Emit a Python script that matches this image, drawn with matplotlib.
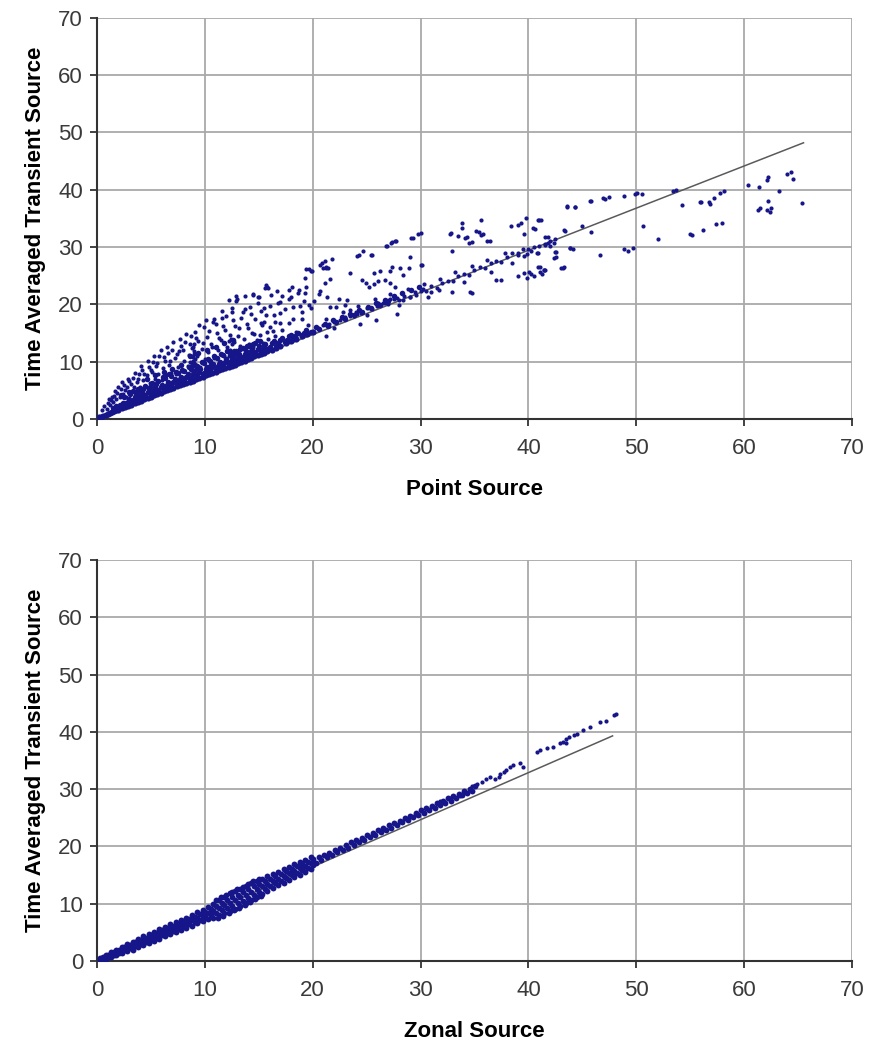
import matplotlib
matplotlib.use("Agg")
import matplotlib.pyplot as plt


plt.rcParams['font.family'] = ['Liberation Sans', 'DejaVu Sans']

DOT_COLOR = '#16168a'
LINE_COLOR = '#5a5a5a'
GRID_COLOR = '#a9a9a9'
AXIS_COLOR = '#333333'

# ---- point source vs transient --------------------------------------------
# lower edge of the cloud, running along the regression line
band_x = [0.2, 0.4, 0.6, 0.8, 1.0, 1.2, 1.4, 1.6, 1.8, 2.0, 2.3, 2.6, 2.9, 3.2,
          3.5, 3.8, 4.1, 4.4, 4.7, 5.0, 5.3, 5.6, 5.9, 6.2, 6.5, 6.8, 7.1, 7.4,
          7.7, 8.0, 8.3, 8.6, 8.9, 9.2, 9.5, 9.8, 10.1, 10.4, 10.7, 11.0, 11.3,
          11.6, 11.9, 12.2, 12.5, 12.8, 13.1, 13.4, 13.7, 14.0, 14.3, 14.6,
          14.9, 15.2, 15.5, 15.8, 16.2, 16.6, 17.0, 17.5, 18.0, 18.5, 19.0,
          19.5, 20.0]
band_y = [0.3, 0.4, 0.6, 0.7, 0.9, 1.0, 1.2, 1.3, 1.5, 1.6, 1.9, 2.1, 2.3, 2.5,
          2.8, 3.0, 3.2, 3.4, 3.7, 3.9, 4.1, 4.3, 4.6, 4.8, 5.0, 5.2, 5.4, 5.7,
          5.9, 6.1, 6.3, 6.5, 6.7, 7.0, 7.2, 7.4, 7.6, 7.8, 8.0, 8.2, 8.5,
          8.7, 8.9, 9.1, 9.3, 9.5, 9.8, 10.0, 10.2, 10.4, 10.6, 10.9,
          11.1, 11.3, 11.5, 11.8, 12.1, 12.4, 12.8, 13.2, 13.6, 14.0, 14.4,
          14.8, 15.2]

# dense wedge just above the lower edge
wedge_x = [1.5, 2.1, 2.7, 3.3, 3.9, 4.5, 5.1, 5.7, 6.3, 6.9, 7.5, 8.1, 8.7, 9.3,
           9.9, 10.5, 11.1, 11.7, 12.3, 12.9, 13.5, 14.1, 14.7, 15.3, 16.0,
           16.8, 17.6, 18.4, 19.2,
           1.8, 2.4, 3.0, 3.6, 4.2, 4.8, 5.4, 6.0, 6.6, 7.2, 7.8, 8.4, 9.0, 9.6,
           10.2, 10.8, 11.4, 12.0, 12.6, 13.2, 13.8, 14.4, 15.0, 15.6, 16.4,
           17.2, 18.0,
           3.3, 3.9, 4.5, 5.1, 5.7, 6.3, 6.9, 7.5, 8.1, 8.7, 9.3, 9.9, 10.5,
           11.1, 11.7, 12.3, 12.9, 13.5, 14.1, 14.7,
           2.0, 2.6, 3.2, 3.8, 4.4, 5.0, 5.6, 6.2, 6.8, 7.4, 8.0, 8.6, 9.2, 9.8,
           10.4, 11.0, 11.6, 12.2, 12.8, 13.4, 14.0, 14.6, 15.2, 15.8, 16.6,
           17.4, 18.2, 19.0, 19.8, 20.6, 21.4, 22.2, 23.0, 23.8, 24.6, 25.4,
           26.2, 27.0,
           2.3, 2.9, 3.5, 4.1, 4.7, 5.3, 5.9, 6.5, 7.1, 7.7, 8.3, 8.9, 9.5,
           10.1, 10.7, 11.3, 11.9, 12.5, 13.1, 13.7, 14.3, 14.9, 15.5, 16.2,
           17.0, 17.8, 18.6, 19.4,
           2.5, 3.1, 3.7, 4.3, 4.9, 5.5, 6.1, 6.7, 7.3, 7.9, 8.5, 9.1, 9.7,
           10.3, 10.9, 11.5, 12.1, 12.7, 13.3, 13.9, 14.5, 15.1,
           2.2, 3.0, 3.8, 4.6, 5.4, 6.2, 7.0, 7.8, 8.6, 9.4, 10.2, 11.0, 11.8,
           12.6,
           20.3, 21.1, 21.9, 22.7, 23.5, 24.3, 25.1, 25.9, 26.7, 27.5, 28.3,
           29.1, 29.9]
wedge_y = [1.9, 2.4, 2.8, 3.3, 3.7, 4.1, 4.6, 5.0, 5.5, 5.9, 6.4, 6.8, 7.2, 7.7,
           8.1, 8.6, 9.0, 9.5, 9.9, 10.3, 10.8, 11.2, 11.7, 12.1, 12.6,
           13.2, 13.8, 14.4, 15.0,
           2.3, 2.8, 3.4, 4.2, 4.7, 5.2, 5.6, 6.0, 6.5, 6.9, 7.4, 7.8, 8.3, 8.7,
           9.1, 9.6, 10.0, 10.5, 10.9, 11.4, 11.8, 12.3, 12.7, 13.1, 13.6,
           14.1, 14.6,
           4.9, 5.3, 5.7, 6.2, 6.6, 7.1, 7.5, 8.0, 8.4, 8.8, 9.3, 9.7, 10.2,
           10.6, 11.1, 11.5, 11.9, 12.4, 12.8, 13.3,
           2.0, 2.4, 2.9, 3.3, 3.8, 4.2, 4.6, 5.1, 5.5, 6.0, 6.4, 6.9, 7.3, 7.8,
           8.2, 8.6, 9.1, 9.5, 10.0, 10.4, 10.9, 11.3, 11.7, 12.2, 12.8,
           13.4, 14.0, 14.6, 15.2, 15.7, 16.3, 16.9, 17.5, 18.1, 18.7, 19.3,
           19.9, 20.5,
           2.5, 2.9, 3.8, 4.2, 4.7, 5.1, 5.6, 6.0, 6.5, 6.9, 7.3, 7.8, 8.2,
           8.7, 9.1, 9.6, 10.0, 10.5, 10.9, 11.3, 11.8, 12.2, 12.7, 13.2,
           13.8, 14.4, 15.0, 15.6,
           3.85, 4.3, 4.7, 5.2, 5.6, 6.1, 7.3, 7.8, 8.2, 8.6, 9.1, 9.5, 10.0,
           10.4, 10.9, 11.3, 11.8, 11.8, 12.2, 12.7, 13.1, 13.6,
           4.1, 4.7, 5.3, 7.0, 7.6, 8.2, 8.8, 9.4, 10.9, 11.5, 12.0, 12.6, 13.2,
           13.8,
           16.0, 16.6, 17.2, 17.8, 18.4, 19.0, 19.6, 20.2, 20.8, 21.4, 21.9,
           22.5, 23.1]

# scattered upper part of the cloud, x < 20
cloud_x = [0.5, 0.7, 0.9, 1.0, 1.2, 1.3, 1.5, 1.6, 1.8, 1.9, 2.1, 2.2, 2.4, 2.5,
           2.7, 2.8, 3.0, 3.1, 3.3, 3.4, 3.6, 3.7, 3.9, 4.0, 4.2, 4.3, 4.5, 4.6,
           4.8, 4.9, 5.1, 5.2, 5.4, 5.5, 5.7, 5.8, 6.0, 6.1, 6.3, 6.4, 6.6, 6.7,
           6.9, 7.0, 7.2, 7.3, 7.5, 7.6, 7.8, 7.9, 8.1, 8.2, 8.4, 8.5, 8.7, 8.8,
           9.0, 9.1, 9.3, 9.4, 9.6, 9.7, 9.9, 10.0, 10.2, 10.3, 10.5, 10.6,
           10.8, 10.9, 11.1, 11.2, 11.4, 11.5, 11.7, 11.8, 12.0, 12.1, 12.3,
           12.4, 12.6, 12.7, 12.9, 13.0, 13.2, 13.3, 13.5, 13.6, 13.8, 13.9,
           14.1, 14.2, 14.4, 14.5, 14.7, 14.8, 15.0, 15.1, 15.3, 15.4, 15.6,
           15.7, 15.9, 16.0, 16.3, 16.5, 12.9, 14.5, 15.7, 13.7, 11.6, 10.9,
           12.2, 16.5, 17.2, 17.8, 18.5, 19.0, 19.6, 16.0, 17.0, 18.2, 19.2,
           15.5, 16.8, 15.2,
           1.1, 1.4, 1.7, 2.0, 2.3, 2.6, 2.9, 3.2, 3.5, 3.8, 4.1, 4.4, 4.7, 5.0,
           5.3, 5.6, 5.9, 6.2, 6.5, 6.8, 7.1, 7.4, 7.7, 8.0, 8.3, 8.6, 9.2, 9.5,
           9.8, 10.1, 10.4, 10.7, 11.0, 11.3, 11.6, 11.9, 12.2, 12.5, 12.8,
           13.1, 13.4, 13.7, 14.0, 14.3, 14.6, 14.9, 15.2, 15.5, 15.8, 16.1,
           16.4, 16.7, 17.0, 17.4, 17.8, 18.2, 18.6, 19.0, 19.4, 19.8]
cloud_y = [1.5, 2.2, 1.8, 2.8, 2.4, 3.3, 2.9, 4.0, 3.4, 4.6, 3.8, 5.2, 4.4, 6.0,
           3.9, 5.5, 6.6, 4.7, 7.2, 5.6, 4.8, 6.4, 7.8, 5.5, 8.5, 6.8, 5.6, 7.6,
           9.0, 6.3, 8.2, 10.0, 6.9, 9.3, 7.8, 11.0, 6.8, 8.9, 10.2, 7.6, 11.5,
           9.5, 8.0, 12.0, 10.6, 7.9, 9.0, 11.8, 12.8, 8.4, 10.2, 13.5, 9.3,
           11.1, 14.5, 12.3, 9.8, 15.2, 10.9, 13.6, 9.1, 12.2, 16.0, 10.4, 14.3,
           11.6, 9.4, 13.0, 17.0, 10.7, 15.0, 12.1, 9.8, 13.8, 16.3, 10.9, 18.0,
           12.5, 14.6, 11.0, 17.2, 13.4, 20.6, 11.8, 15.8, 12.7, 18.6, 14.0,
           11.9, 16.6, 13.1, 19.5, 15.0, 12.6, 17.5, 13.8, 21.3, 14.6, 16.4,
           13.2, 22.8, 18.2, 14.0, 19.8, 15.4, 17.0, 21.4, 21.6, 23.3, 19.2,
           18.8, 17.5, 20.8, 14.5, 15.6, 16.8, 15.2, 17.5, 16.4, 16.0, 18.5,
           19.6, 20.5, 17.0, 20.3, 18.8,
           3.5, 3.9, 4.8, 5.6, 6.4, 5.0, 7.0, 6.1, 8.0, 7.0, 9.2, 7.9, 10.2, 8.6,
           11.0, 9.8, 12.0, 10.8, 12.6, 10.2, 13.4, 11.3, 14.0, 12.0, 14.8,
           13.0, 14.2, 16.4, 13.3, 17.2, 15.4, 12.6, 16.6, 14.2, 17.6, 15.6,
           13.6, 18.6, 16.2, 14.4, 17.6, 21.4, 15.8, 18.4, 14.8, 20.2, 16.8,
           19.4, 15.2, 21.6, 18.2, 22.4, 16.8, 19.2, 21.0, 17.4, 22.0, 18.6,
           23.0, 19.4]

# vertical streaks near x = 9 and x = 12.5
spike_x = [8.7, 8.8, 8.8, 8.9, 8.9, 9.0, 9.0, 8.9, 9.1, 9.1, 9.2, 8.6, 9.0,
           12.0, 12.2, 12.3, 12.5, 12.4, 12.6, 12.8]
spike_y = [8.5, 9.0, 9.6, 10.2, 10.8, 11.3, 11.9, 12.5, 9.3, 10.5, 8.8, 9.9,
           13.0, 10.0, 11.0, 12.0, 13.0, 14.0, 10.5, 11.5]

# sparse points between 20 and 45
mid_x = [30.0, 29.3, 27.4, 27.7, 26.9, 24.7, 24.3, 25.5, 21.8, 21.1, 20.7, 19.7,
         19.9, 21.2, 21.4, 19.3, 21.6, 21.1, 23.5, 25.7, 26.2, 27.2, 27.4, 28.1,
         28.4, 28.9, 30.0, 24.6, 24.9, 25.2, 25.7, 26.1, 26.7, 27.2, 27.6, 15.8,
         15.9, 17.8, 18.1, 18.7, 19.3, 17.2, 18.0, 17.0, 14.5, 14.9, 13.0, 12.5,
         20.6, 20.7, 20.1, 19.7, 18.8, 21.3, 22.4, 23.2, 21.6, 22.2, 23.0, 23.5,
         24.1, 23.8, 24.4, 26.1, 26.7, 27.2, 27.8, 28.4, 29.0, 29.6, 30.2, 25.9,
         27.8, 21.2,
         43.6, 44.3, 33.8, 33.8, 35.6, 38.4, 39.0, 39.3, 39.8, 41.0, 40.4, 32.7,
         33.5, 34.1, 35.1, 35.6, 36.2, 34.5, 29.8, 29.1, 26.8, 27.3, 27.6, 24.1,
         25.4, 20.9, 21.2, 21.0, 19.4, 19.8, 41.5, 43.3, 43.9, 42.6, 42.6, 43.3,
         41.5, 41.8, 42.0, 40.9, 39.9, 39.6, 39.0, 40.9, 41.4, 39.0, 39.6, 40.1,
         40.2, 37.0, 37.5, 34.6,
         34.8, 35.4, 35.8, 36.4, 32.8, 34.3, 39.6, 40.6, 41.2, 41.8, 42.4, 44.1,
         43.2, 40.5, 41.1, 41.3, 39.9, 41.1, 41.5, 34.8, 32.9, 31.7, 30.7, 32.9,
         30.1, 29.0, 40.5, 41.0, 41.5, 42.0, 40.2, 40.8, 42.5]
mid_y = [32.4, 31.5, 30.9, 31.1, 30.1, 29.4, 28.6, 28.6, 27.9, 27.5, 26.8, 26.1,
         25.9, 26.4, 26.3, 24.6, 24.4, 23.7, 25.5, 25.5, 25.8, 25.8, 26.5, 26.3,
         25.1, 26.4, 26.8, 24.2, 23.7, 23.1, 23.5, 24.1, 24.2, 23.7, 23.0, 23.1,
         22.9, 22.5, 23.1, 22.5, 21.9, 21.5, 21.2, 20.4, 21.8, 21.2, 21.0, 19.4,
         21.8, 22.3, 20.5, 19.9, 19.8, 21.3, 21.0, 20.8, 19.6, 19.6, 19.9, 19.0,
         18.3, 17.9, 16.5, 20.2, 20.2, 20.9, 21.1, 20.8, 21.2, 21.6, 22.6, 17.3,
         18.3, 14.5,
         37.1, 37.0, 34.2, 33.3, 34.8, 33.7, 33.8, 34.2, 35.1, 34.8, 33.3, 32.3,
         32.0, 31.5, 32.8, 32.1, 31.0, 30.7, 32.3, 31.5, 30.1, 30.7, 31.0, 28.5,
         28.6, 27.2, 26.6, 26.4, 26.2, 25.9, 31.7, 32.9, 29.8, 29.2, 28.3, 26.5,
         30.3, 30.7, 30.1, 28.9, 28.8, 28.4, 28.6, 26.6, 26.0, 24.9, 25.5, 25.6,
         25.3, 24.2, 24.2, 22.1,
         30.8, 32.6, 32.2, 31.0, 32.4, 31.7, 32.2, 33.2, 34.7, 31.7, 30.7, 29.7,
         26.3, 24.9, 25.6, 25.3, 24.6, 26.5, 26.0, 21.9, 22.2, 22.5, 21.3, 29.3,
         26.8, 28.3, 30.0, 30.2, 30.6, 31.0, 29.4, 29.0, 31.4]

# points hugging the regression line between 20 and 40
along_x = [20.5, 21.0, 21.5, 22.0, 22.5, 23.0, 23.5, 24.0, 24.5, 25.0, 25.5,
           26.0, 26.5, 27.0, 27.5, 28.0, 28.5, 29.0, 29.5, 30.0, 30.5, 31.0,
           31.5, 32.0, 32.5, 33.0, 33.5, 34.0, 34.5, 35.0, 35.5, 36.0, 36.5,
           37.0, 37.5, 38.0, 38.5, 39.0, 39.5, 40.0,
           21.2, 22.8, 24.2, 25.8, 27.2, 28.8, 30.3, 31.8, 33.2, 34.8, 36.2,
           37.8, 22.0, 25.0, 28.0, 31.0, 34.0, 36.5, 38.5]
along_y = [15.8, 16.4, 16.5, 17.0, 17.2, 17.8, 17.9, 18.6, 18.5, 19.3, 19.2,
           19.8, 20.3, 20.0, 20.9, 20.8, 21.5, 21.3, 22.1, 22.4, 22.3, 23.2,
           22.9, 23.8, 24.1, 24.0, 24.9, 25.3, 25.2, 26.0, 26.5, 26.3, 27.3,
           27.6, 27.4, 28.3, 28.9, 29.0, 29.6, 29.7,
           17.5, 18.6, 19.8, 20.9, 21.8, 22.7, 23.6, 24.5, 25.6, 26.7, 27.8,
           28.9, 15.9, 18.2, 19.9, 22.1, 23.9, 25.6, 27.3]

# the far right tail
far_x = [40.9, 43.6, 44.3, 45.7, 45.8, 46.9, 47.1, 47.5, 48.9, 49.9, 50.1, 50.5,
         45.0, 43.4, 45.8, 50.6, 52.0, 53.4, 53.7, 54.2, 55.9, 56.0, 56.7, 56.8,
         57.2, 57.8, 58.1, 55.0, 55.2, 56.2, 57.4, 57.9, 43.9, 46.6, 48.9, 49.2,
         49.7, 42.5, 42.4, 43.0, 41.4, 60.4, 61.4, 62.1, 62.2, 63.2, 64.0, 64.3,
         64.5, 65.4, 62.2, 62.5, 61.5, 61.3, 62.1, 62.4]
far_y = [34.8, 37.0, 37.0, 38.0, 38.0, 38.5, 38.4, 38.8, 39.0, 39.3, 39.4, 39.2,
         33.7, 32.8, 32.7, 33.7, 31.4, 39.8, 39.9, 37.3, 37.8, 37.9, 37.9, 37.6,
         38.5, 39.5, 39.8, 32.3, 32.1, 33.0, 34.1, 34.2, 29.8, 28.7, 29.7, 29.3,
         29.8, 29.2, 28.1, 26.4, 26.0, 40.9, 40.5, 41.7, 42.3, 39.7, 42.8, 43.1,
         41.9, 37.7, 38.1, 36.9, 36.9, 36.4, 36.4, 36.2]

point_fit_x = [0.0, 65.5]
point_fit_y = [0.0, 48.2]

# ---- zonal source vs transient --------------------------------------------
zonal_x1 = [0.3, 0.8, 1.3, 1.8, 2.3, 2.8, 3.3, 3.8, 4.3, 4.8, 5.3, 5.8, 6.3, 6.8,
            7.3, 7.8, 8.3, 8.8, 9.3, 9.8, 10.3, 10.8, 11.3, 11.8, 12.3, 12.8,
            13.3, 13.8, 14.3, 14.8, 15.3, 15.8, 16.3, 16.8, 17.3, 17.8, 18.3,
            18.8, 19.3, 19.8]
zonal_mid = [0.3, 0.7, 1.1, 1.5, 1.9, 2.3, 2.7, 3.1, 3.5, 3.9, 4.3, 4.7, 5.1,
             5.5, 5.9, 6.3, 6.7, 7.1, 7.5, 7.9, 8.3, 8.8, 9.3, 9.7, 10.2, 10.6,
             11.1, 11.6, 12.1, 12.6, 13.1, 13.5, 14.0, 14.4, 14.9, 15.3, 15.8,
             16.2, 16.6, 17.1]
zonal_low = [0.1, 0.4, 0.7, 1.0, 1.4, 1.7, 2.0, 2.4, 2.8, 3.1, 3.5, 3.9, 4.3,
             4.7, 5.1, 5.5, 5.8, 6.2, 6.6, 7.0, 7.3, 7.6, 8.0, 8.3, 8.7, 9.1,
             9.6, 10.1, 10.6, 11.2, 11.7, 12.2, 12.7, 13.2, 13.7, 14.2, 14.7,
             15.1, 15.6, 16.1]
zonal_high = [0.6, 1.1, 1.6, 2.0, 2.5, 2.9, 3.4, 3.8, 4.3, 4.7, 5.1, 5.6, 6.0,
              6.4, 6.8, 7.2, 7.6, 8.0, 8.5, 8.9, 9.4, 10.0, 10.6, 11.2, 11.8,
              12.2, 12.6, 13.1, 13.6, 14.0, 14.4, 14.8, 15.2, 15.6, 16.0, 16.4,
              16.9, 17.3, 17.7, 18.1]

zonal_x2 = [0.55, 1.05, 1.55, 2.05, 2.55, 3.05, 3.55, 4.05, 4.55, 5.05, 5.55,
            6.05, 6.55, 7.05, 7.55, 8.05, 8.55, 9.05, 9.55, 10.05, 10.55, 11.05,
            11.55, 12.05, 12.55, 13.05, 13.55, 14.05, 14.55, 15.05, 15.55,
            16.05, 16.55, 17.05, 17.55, 18.05, 18.55, 19.05, 19.55, 20.05]
zonal_lowmid = [0.4, 0.75, 1.1, 1.45, 1.85, 2.2, 2.55, 2.95, 3.35, 3.7, 4.1,
                4.5, 4.9, 5.3, 5.7, 6.1, 6.45, 6.85, 7.25, 7.65, 8.0, 8.4, 8.85,
                9.2, 9.65, 10.05, 10.55, 11.05, 11.55, 12.1, 12.6, 13.05, 13.55,
                14.0, 14.5, 14.95, 15.45, 15.85, 16.3, 16.8]
zonal_midhigh = [0.65, 1.1, 1.55, 1.95, 2.4, 2.8, 3.25, 3.65, 4.1, 4.5, 4.9,
                 5.35, 5.75, 6.15, 6.55, 6.95, 7.35, 7.75, 8.2, 8.6, 9.05, 9.6,
                 10.15, 10.65, 11.2, 11.6, 12.05, 12.55, 13.05, 13.5, 13.95,
                 14.35, 14.8, 15.2, 15.65, 16.05, 16.55, 16.95, 17.35, 17.8]

zonal_x3 = [20.3, 20.8, 21.3, 21.8, 22.3, 22.8, 23.3, 23.8, 24.3, 24.8, 25.3,
            25.8, 26.3, 26.8, 27.3, 27.8, 28.3, 28.8, 29.3, 29.8, 30.3, 30.8,
            31.3, 31.8, 32.3, 32.8, 33.3, 33.8, 34.3, 34.8]
zonal_row_a = [17.2, 17.7, 18.1, 18.5, 19.0, 19.4, 19.8, 20.3, 20.7, 21.1, 21.6,
               22.0, 22.5, 22.9, 23.3, 23.8, 24.2, 24.6, 25.1, 25.5, 25.9, 26.3,
               26.7, 27.2, 27.6, 28.0, 28.4, 28.9, 29.3, 29.7]
zonal_x4 = [20.55, 21.05, 21.55, 22.05, 22.55, 23.05, 23.55, 24.05, 24.55,
            25.05, 25.55, 26.05, 26.55, 27.05, 27.55, 28.05, 28.55, 29.05,
            29.55, 30.05, 30.55, 31.05, 31.55, 32.05, 32.55, 33.05, 33.55,
            34.05, 34.55, 35.05]
zonal_row_b = [18.1, 18.5, 18.9, 19.4, 19.8, 20.3, 20.7, 21.1, 21.5, 22.0, 22.4,
               22.8, 23.3, 23.7, 24.1, 24.5, 25.0, 25.4, 25.8, 26.3, 26.7, 27.1,
               27.5, 28.0, 28.4, 28.8, 29.2, 29.6, 30.1, 30.5]

# widest part of the band around x = 11-15
zonal_fat_x = [11.0, 11.5, 12.0, 12.5, 13.0, 13.5, 14.0, 14.5, 15.0,
               11.2, 11.7, 12.2, 12.7, 13.2, 13.7, 14.2, 14.7, 15.2]
zonal_fat_y = [10.6, 11.1, 11.6, 12.0, 12.5, 12.9, 13.4, 13.9, 14.4,
               7.5, 7.9, 8.4, 8.9, 9.3, 9.8, 10.3, 10.8, 11.3]

# sparse upper tail
zonal_tail_x = [34.8, 35.2, 35.7, 36.1, 36.4, 36.9, 37.3, 37.4, 37.7, 37.9,
                38.3, 38.6, 39.2, 39.5, 40.8, 41.1, 41.7, 42.3, 42.9, 43.2,
                43.5, 43.8, 44.2, 44.5, 43.5, 45.1, 45.7, 46.6, 47.2, 47.9,
                48.1, 31.8, 32.7, 33.7, 34.3]
zonal_tail_y = [30.5, 30.9, 31.2, 31.8, 32.1, 31.8, 32.2, 32.7, 33.0, 33.3,
                33.8, 34.3, 34.5, 33.8, 36.5, 36.8, 37.1, 37.4, 38.0, 38.2,
                38.8, 39.1, 39.5, 39.7, 38.0, 40.3, 40.9, 41.7, 41.9, 42.9,
                43.2, 28.0, 28.5, 28.8, 29.3]

zonal_fit_x = [0.0, 47.8]
zonal_fit_y = [0.0, 39.3]


def style_axes(ax, xlabel):
    ax.set_xlim(0, 70)
    ax.set_ylim(0, 70)
    ax.set_xticks(range(0, 71, 10))
    ax.set_yticks(range(0, 71, 10))
    ax.grid(True, color=GRID_COLOR, linewidth=1.3)
    ax.set_axisbelow(True)
    for side in ('top', 'right'):
        ax.spines[side].set_visible(False)
    for side in ('left', 'bottom'):
        ax.spines[side].set_color(AXIS_COLOR)
        ax.spines[side].set_linewidth(1.5)
    ax.tick_params(direction='out', length=5, width=1.3, color=AXIS_COLOR,
                   labelsize=16, labelcolor='#3a3a3a')
    ax.tick_params(axis='x', pad=9)
    ax.tick_params(axis='y', pad=5)
    ax.set_xlabel(xlabel, fontsize=16, fontweight='bold', labelpad=14)
    ax.set_ylabel('Time Averaged Transient Source', fontsize=16,
                  fontweight='bold', labelpad=9)


def dots(ax, x, y, size=9):
    ax.scatter(x, y, s=size, c=DOT_COLOR, linewidths=0, zorder=3)


fig = plt.figure(figsize=(8.73, 10.59), dpi=100, facecolor='white')

ax1 = fig.add_axes([0.111, 0.6044, 0.865, 0.3787])
style_axes(ax1, 'Point Source')
ax1.plot(point_fit_x, point_fit_y, color=LINE_COLOR, linewidth=1.1, zorder=2)
dots(ax1, band_x, band_y, 20)
dots(ax1, wedge_x, wedge_y, 16)
for xs, ys in [(cloud_x, cloud_y), (spike_x, spike_y), (mid_x, mid_y),
               (along_x, along_y), (far_x, far_y)]:
    dots(ax1, xs, ys)

ax2 = fig.add_axes([0.111, 0.0925, 0.865, 0.3787])
style_axes(ax2, 'Zonal Source')
ax2.plot(zonal_fit_x, zonal_fit_y, color=LINE_COLOR, linewidth=1.1, zorder=2)
for xs, ys in [(zonal_x1, zonal_mid), (zonal_x1, zonal_low),
               (zonal_x1, zonal_high), (zonal_x2, zonal_lowmid),
               (zonal_x2, zonal_midhigh), (zonal_x3, zonal_row_a),
               (zonal_x4, zonal_row_b), (zonal_fat_x, zonal_fat_y)]:
    dots(ax2, xs, ys, 18)
dots(ax2, zonal_tail_x, zonal_tail_y)

fig.savefig('out.png', dpi=100, facecolor='white')
